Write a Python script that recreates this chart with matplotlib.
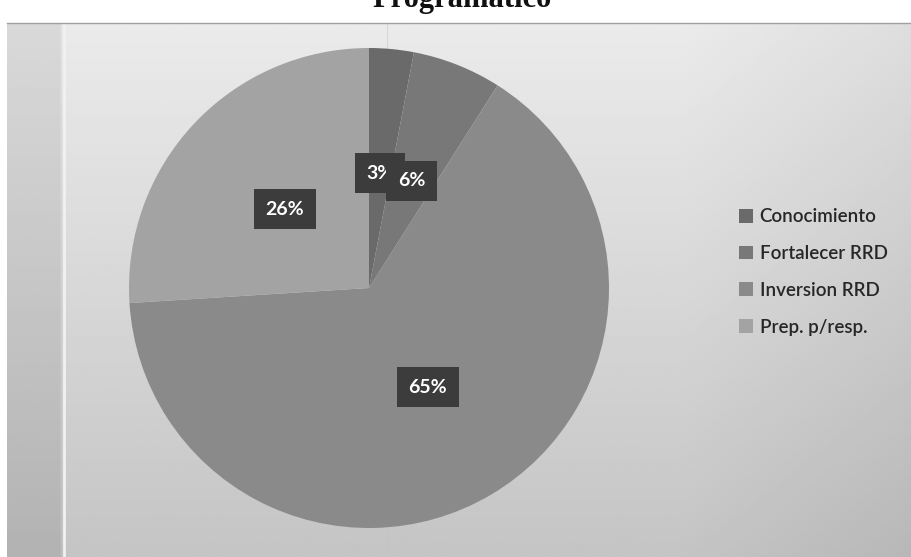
import numpy as np
import matplotlib.pyplot as plt
from matplotlib.patches import Patch

# ------------------------------------------------------------------ data
categories = ["Conocimiento", "Fortalecer RRD", "Inversion RRD", "Prep. p/resp."]
shares = [3, 6, 65, 26]
colors = ["#6a6a6a", "#787878", "#8a8a8a", "#a3a3a3"]
title = "Programático"

W, H = 911, 557
fig = plt.figure(figsize=(W / 100, H / 100), dpi=100)
fig.patch.set_facecolor("white")

# scanned panel background (soft gray gradient)
bg = fig.add_axes([7 / W, 0, 1 - 7 / W, 1 - 23 / H])
yy, xx = np.mgrid[0:1:200j, 0:1:300j]
shade = 0.92 - 0.15 * yy - 0.05 * np.clip(xx - 0.75, 0, None) * 4
shade[:, :18] -= 0.07
bg.imshow(shade, cmap="gray", vmin=0, vmax=1, aspect="auto",
          extent=(0, 1, 0, 1), origin="upper", interpolation="bilinear")
bg.axvline(0.063, color="#eef3ee", lw=2.0)
bg.axvline(0.42, color="#b9c9bb", lw=0.6, alpha=0.6)
bg.set_xlim(0, 1)
bg.set_ylim(0, 1)
bg.axis("off")
fig.add_artist(plt.Line2D([7 / W, 1], [1 - 23 / H, 1 - 23 / H],
                          color="#a0a0a0", lw=1.0, transform=fig.transFigure))

# title, cut off at the top edge of the scan
fig.text(462 / W, 1 - 7 / H, title, ha="center", va="baseline",
         fontsize=22, fontweight="bold", family="Liberation Serif", color="#111111")

# ------------------------------------------------------------------ pie
cx, cy, r = 369, 288, 240
ax = fig.add_axes([(cx - r) / W, (H - cy - r) / H, 2 * r / W, 2 * r / H])
wedges, texts, autotexts = ax.pie(
    shares, colors=colors, startangle=90, counterclock=False,
    autopct=lambda p: f"{p:.0f}%", pctdistance=0.48,
    wedgeprops=dict(linewidth=0),
    textprops=dict(color="white", fontsize=14, fontweight="bold", family="Lato"),
)
for t in autotexts:
    t.set_bbox(dict(boxstyle="square,pad=0.6", facecolor="#3c3c3c", edgecolor="none"))
ax.set_xlim(-1, 1)
ax.set_ylim(-1, 1)
ax.set_aspect("equal")

# ------------------------------------------------------------------ legend
handles = [Patch(facecolor=c, edgecolor="none") for c in colors]
fig.legend(handles, categories, loc="center left",
           bbox_to_anchor=(722 / W, 1 - 272 / H), frameon=False,
           prop=dict(family="Lato", size=13.5, weight="semibold"), labelcolor="#262626",
           handlelength=0.75, handleheight=0.75, handletextpad=0.35,
           labelspacing=1.05)

fig.savefig("out.png", dpi=100)
